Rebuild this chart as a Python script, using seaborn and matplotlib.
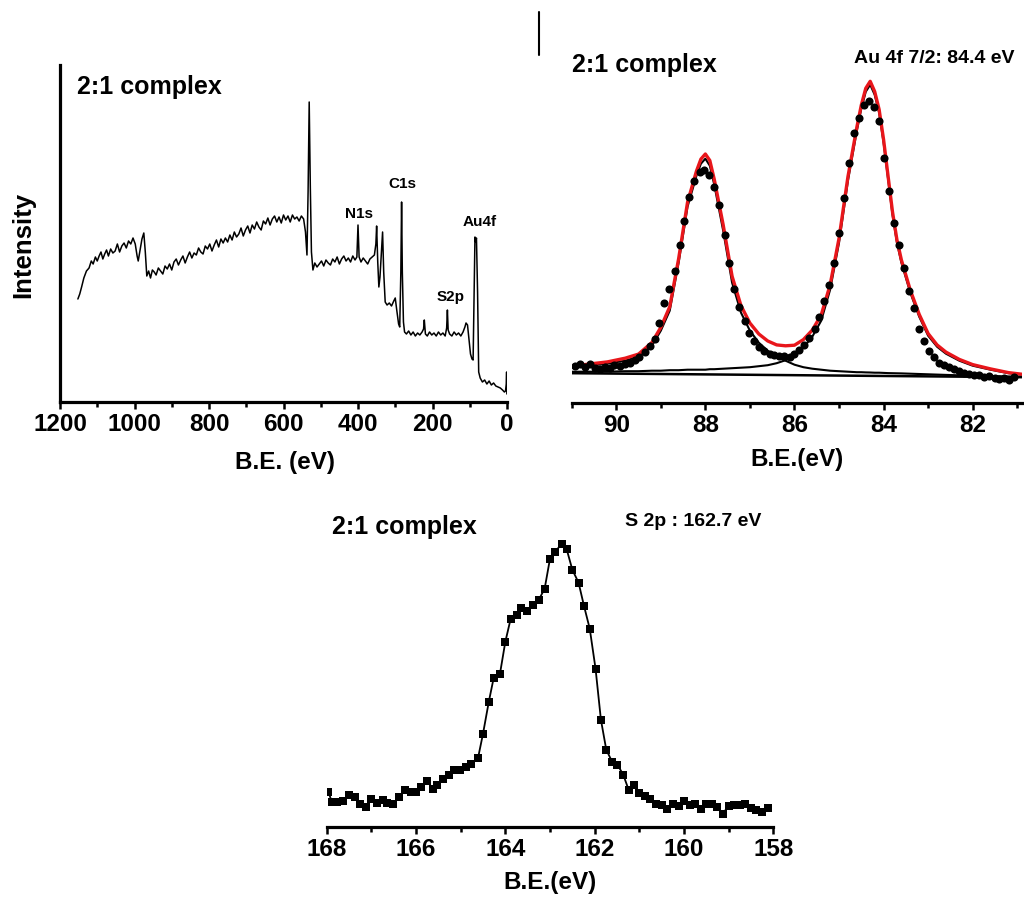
import matplotlib
matplotlib.use("Agg")
import matplotlib.pyplot as plt
from matplotlib.lines import Line2D
from matplotlib.ticker import MultipleLocator
from matplotlib.font_manager import FontProperties, findfont
import seaborn as sns

# Survey spectrum (B.E. in eV, intensity in arbitrary units)
survey_be = [1152, 1147, 1142, 1136, 1129, 1122, 1116, 1111, 1105, 1100,
             1095, 1090, 1085, 1080, 1075, 1070, 1064, 1058, 1052, 1046,
             1040, 1034, 1028, 1022, 1016, 1010, 1004, 998, 993, 990,
             985, 980, 975, 971, 967, 962, 957, 952, 947, 942,
             936, 930, 924, 918, 912, 906, 900, 894, 888, 882,
             876, 870, 864, 858, 852, 846, 840, 834, 828, 822,
             816, 810, 804, 798, 792, 786, 780, 774, 768, 762,
             756, 750, 744, 738, 732, 726, 720, 714, 708, 702,
             696, 690, 684, 678, 672, 666, 660, 654, 648, 642,
             636, 630, 624, 618, 612, 606, 600, 594, 588, 582,
             576, 570, 564, 558, 552, 546, 541, 537, 534, 531,
             528, 525, 521, 516, 510, 504, 498, 492, 486, 480,
             474, 468, 462, 456, 450, 444, 438, 432, 426, 420,
             414, 408, 403, 400, 397, 392, 386, 380, 374, 368,
             362, 356, 352, 350, 347, 344, 341, 337, 334, 331,
             327, 322, 316, 310, 304, 300, 296, 291, 288, 285,
             283, 281, 278, 275, 270, 264, 258, 252, 246, 240,
             234, 228, 224, 222, 219, 214, 208, 202, 196, 190,
             184, 178, 172, 166, 162, 160, 158, 154, 148, 142,
             136, 130, 124, 118, 113, 110, 106, 102, 98, 94,
             91, 88, 86, 84, 82, 79, 76, 72, 66, 60,
             54, 48, 42, 36, 30, 24, 18, 12, 7, 4,
             2, 1, 0.3]
survey_counts = [103, 108, 115, 124, 131, 134, 141, 138, 145, 141,
                 146, 150, 143, 148, 152, 146, 153, 149, 151, 158,
                 150, 156, 159, 154, 161, 158, 164, 158, 146, 141,
                 152, 163, 169, 150, 126, 131, 124, 132, 130, 127,
                 134, 131, 128, 136, 133, 138, 132, 140, 143, 137,
                 142, 146, 139, 145, 150, 144, 149, 147, 154, 150,
                 148, 156, 153, 158, 151, 157, 162, 155, 163, 159,
                 164, 160, 167, 162, 170, 165, 168, 174, 166, 172,
                 176, 169, 177, 173, 180, 175, 172, 181, 178, 184,
                 177, 183, 186, 180, 185, 179, 187, 182, 186, 180,
                 187, 183, 185, 181, 186, 183, 170, 147, 210, 300,
                 215, 150, 132, 139, 135, 138, 141, 136, 142, 139,
                 137, 143, 140, 145, 138, 143, 146, 141, 144, 140,
                 146, 142, 145, 177, 145, 140, 144, 141, 138, 143,
                 145, 147, 158, 176, 140, 115, 125, 150, 170, 130,
                 100, 97, 99, 96, 101, 104, 92, 78, 75, 130,
                 200, 130, 80, 70, 68, 71, 67, 70, 66, 69,
                 67, 70, 73, 82, 68, 66, 70, 67, 69, 66,
                 70, 67, 69, 66, 74, 92, 72, 68, 66, 70,
                 67, 69, 66, 70, 75, 79, 77, 62, 48, 43,
                 42, 120, 165, 160, 164, 110, 30, 24, 20, 22,
                 18, 21, 17, 19, 16, 15, 14, 12, 10, 11,
                 18, 30, 8]
survey_labels = ["N1s", "C1s", "S2p", "Au4f"]
survey_label_be = [396, 280, 151, 73]
survey_label_counts = [188, 218, 105, 180]

# Au 4f high resolution: fitted curves
fit_be = [91.0, 90.6, 90.2, 89.8, 89.5, 89.2, 89.0, 88.8, 88.6, 88.4, 88.2, 88.1,
          88.0, 87.9, 87.8, 87.6, 87.4, 87.2, 87.0, 86.8, 86.6, 86.4, 86.2, 86.0,
          85.8, 85.6, 85.4, 85.2, 85.0, 84.8, 84.6, 84.5, 84.4, 84.3, 84.2, 84.1,
          84.0, 83.9, 83.8, 83.7, 83.6, 83.4, 83.2, 83.0, 82.8, 82.6, 82.3, 82.0,
          81.6, 81.2, 80.9]
au_comp1 = [35, 37, 39, 42, 46, 57, 72, 92, 140, 196, 227, 239,
            244, 237, 218, 172, 120, 90, 72, 60, 52, 46, 42, 38,
            35.5, 34, 33, 32, 31.5, 31, 30.5, 30.5, 30.3, 30.2, 30, 30,
            29.8, 29.6, 29.5, 29.4, 29.3, 29, 28.7, 28.4, 28.1, 27.8, 27.4, 27,
            26.6, 26.2, 26]
au_comp2 = [31, 31, 31, 31.5, 31.5, 32, 32, 32.5, 32.5, 33, 33, 33,
            33, 33.5, 33.5, 34, 34.5, 35, 35.5, 36.5, 37.5, 39.5, 42.5, 47,
            55, 66, 82, 113, 160, 222, 272, 294, 311, 318, 308, 290,
            260, 224, 188, 160, 140, 110, 86, 67, 56, 49, 42, 37,
            33, 29.5, 28]
au_envelope = [36.5, 38.7, 40.8, 44.5, 48.6, 60.2, 75.3, 95.9, 144, 200.5, 231.6, 243.6,
               248.7, 242.2, 223.3, 177.8, 126.4, 97, 79.6, 68.7, 61.7, 57.8, 56.9, 57.5,
               63.1, 72.6, 87.7, 117.8, 164.4, 226, 275.5, 297.6, 314.4, 321.4, 311.2, 293.2,
               263.1, 226.9, 190.9, 162.8, 142.7, 112.5, 88.3, 69.1, 57.8, 50.6, 43.3, 38.1,
               33.8, 30.1, 28.5]
au_base_be = [91.0, 80.9]
au_base = [29.5, 25.5]

# Au 4f measured points
au_dot_be = [90.93, 90.82, 90.71, 90.60, 90.48, 90.37, 90.26, 90.15, 90.04,
             89.92, 89.81, 89.70, 89.59, 89.48, 89.36, 89.25, 89.14, 89.03,
             88.92, 88.81, 88.69, 88.58, 88.47, 88.36, 88.25, 88.13, 88.02,
             87.91, 87.80, 87.69, 87.57, 87.46, 87.35, 87.24, 87.12, 87.01,
             86.90, 86.79, 86.68, 86.56, 86.45, 86.34, 86.23, 86.11, 86.00,
             85.89, 85.78, 85.67, 85.55, 85.44, 85.33, 85.22, 85.11,
             84.99, 84.88, 84.77, 84.66, 84.55, 84.43, 84.32, 84.21, 84.10,
             83.98, 83.87, 83.76, 83.65, 83.54, 83.42, 83.31, 83.20, 83.09,
             82.97, 82.86, 82.75, 82.64, 82.53, 82.41, 82.30, 82.19, 82.08,
             81.96, 81.85, 81.74, 81.63, 81.51, 81.40, 81.29, 81.18, 81.07]
au_dot = [37, 39, 36, 39, 35, 34, 36, 35, 38,
          37, 39, 40, 43, 46, 51, 57, 64, 80,
          100, 114, 132, 158, 182, 206, 222, 231, 233,
          228, 216, 198, 168, 140, 114, 96, 82, 70,
          62, 56, 52, 49, 48, 47, 47, 46, 49,
          53, 58, 65, 74, 86, 102, 118, 140,
          170, 205, 240, 270, 285, 298, 302, 296, 282,
          245, 212, 180, 158, 135, 112, 95, 74, 62,
          52, 46, 40, 38, 36, 34, 32, 30, 29,
          28, 28, 26, 27, 25, 24, 25, 23, 26]

# S 2p high resolution
s2p_be = [167.96, 167.89, 167.78, 167.63, 167.49, 167.37, 167.25, 167.13, 167.01,
          166.88, 166.75, 166.64, 166.51, 166.37, 166.25, 166.12, 166.00,
          165.88, 165.75, 165.63, 165.52, 165.39, 165.26, 165.14, 165.02,
          164.89, 164.76, 164.61, 164.50, 164.37, 164.26, 164.12, 164.00,
          163.88, 163.75, 163.64, 163.51, 163.38, 163.25, 163.12, 163.00,
          162.88, 162.74, 162.63, 162.50, 162.36, 162.24, 162.11,
          161.98, 161.86, 161.74, 161.61, 161.49, 161.36, 161.24, 161.12, 161.01,
          160.88, 160.75, 160.62, 160.49, 160.37, 160.25, 160.12, 160.00,
          159.87, 159.75, 159.63, 159.50, 159.37, 159.25, 159.13, 159.00,
          158.87, 158.75, 158.63, 158.51, 158.38, 158.26, 158.12]
s2p_counts = [35, 25, 25, 26, 32, 30, 23, 20, 28,
              24, 27, 24, 23, 30, 37, 35, 35,
              40, 46, 38, 42, 48, 52, 57, 57,
              60, 63, 69, 93, 125, 149, 153, 185,
              208, 212, 219, 216, 222, 227, 238, 268,
              275, 283, 278, 257, 244, 221, 198,
              158, 107, 77, 65, 62, 52, 37, 42, 34,
              31, 28, 23, 22, 18, 23, 21, 26,
              22, 23, 18, 23, 23, 20, 13, 21,
              22, 22, 23, 19, 17, 15, 19]

sns.set_style("ticks", {"axes.edgecolor": "black", "xtick.color": "black",
                        "text.color": "black", "axes.labelcolor": "black"})
plt.rcParams['font.family'] = ['Liberation Sans', 'DejaVu Sans']
plt.rcParams['font.weight'] = 'bold'
plt.rcParams['axes.labelweight'] = 'bold'

# Tick labels in the reference are narrow bold digits
try:
    findfont(FontProperties(family='Liberation Sans Narrow', weight='bold'),
             fallback_to_default=False)
    tick_family, tick_size = 'Liberation Sans Narrow', 20.5
except ValueError:
    tick_family, tick_size = 'Liberation Sans', 17.5


def style_axis(axes, xlim, ylim, major, minor, keep_left):
    axes.set_xlim(*xlim)
    axes.set_ylim(*ylim)
    sns.despine(ax=axes, left=not keep_left)
    for side in ['bottom', 'left']:
        axes.spines[side].set_linewidth(2.3)
    axes.xaxis.set_major_locator(MultipleLocator(major))
    axes.xaxis.set_minor_locator(MultipleLocator(minor))
    axes.tick_params(axis='x', which='major', length=5, width=1.8, direction='out', pad=3)
    axes.tick_params(axis='x', which='minor', length=3.5, width=1.8, direction='out')
    axes.set_yticks([])
    axes.set_ylabel('')
    axes.patch.set_alpha(0)
    for label in axes.get_xticklabels():
        label.set_fontfamily(tick_family)
        label.set_fontsize(tick_size)
        label.set_fontweight('bold')


figure = plt.figure(figsize=(10.24, 9), dpi=100)
ax1 = figure.add_axes([60 / 1024, 1 - 402 / 900, 447 / 1024, 337 / 900])
ax2 = figure.add_axes([571.7 / 1024, 1 - 402.7 / 900, 450 / 1024, 337.7 / 900])
ax3 = figure.add_axes([326.7 / 1024, 1 - 826.7 / 900, 446.6 / 1024, 291.7 / 900])

# Survey
sns.lineplot(x=survey_be, y=survey_counts, sort=False, estimator=None,
             color='black', linewidth=1.1, ax=ax1)
for name, be, count in zip(survey_labels, survey_label_be, survey_label_counts):
    ax1.text(be, count, name, ha='center', va='center', fontsize=11, fontweight='bold')
style_axis(ax1, (1200, 0), (0, 337), 200, 100, True)
ax1.text(0.038, 0.936, "2:1 complex", transform=ax1.transAxes, ha='left', va='center',
         fontsize=18, fontweight='bold')
ax1.set_xlabel("B.E. (eV)", fontsize=17.5, fontweight='bold')
ax1.xaxis.set_label_coords(0.503, -0.181)
ax1.xaxis.label.set_va('center')
figure.text(23 / 1024, 1 - 245 / 900, "Intensity", rotation=90, ha='center', va='center',
            fontsize=18.5, fontweight='bold')

# Au 4f
sns.lineplot(x=fit_be, y=au_comp1, sort=False, estimator=None, color='black', linewidth=1.5, ax=ax2)
sns.lineplot(x=fit_be, y=au_comp2, sort=False, estimator=None, color='black', linewidth=1.5, ax=ax2)
sns.lineplot(x=au_base_be, y=au_base, sort=False, estimator=None, color='black', linewidth=1.8, ax=ax2)
sns.lineplot(x=fit_be, y=au_envelope, sort=False, estimator=None, color='#e8161b', linewidth=2.4, ax=ax2)
sns.scatterplot(x=au_dot_be, y=au_dot, color='black', s=34, linewidth=0, ax=ax2, zorder=5)
style_axis(ax2, (91.0, 80.9), (0, 337.7), 2, 1, False)
ax2.text(0.0, 1.0, "2:1 complex", transform=ax2.transAxes, ha='left', va='center',
         fontsize=18, fontweight='bold')
ax2.text(0.805, 1.02, "Au 4f 7/2: 84.4 eV", transform=ax2.transAxes, ha='center', va='center',
         fontsize=14, fontweight='bold')
ax2.set_xlabel("B.E.(eV)", fontsize=17.5, fontweight='bold')
ax2.xaxis.set_label_coords(0.50, -0.167)
ax2.xaxis.label.set_va('center')

# S 2p
sns.lineplot(x=s2p_be, y=s2p_counts, sort=False, estimator=None, color='black', linewidth=1.3,
             marker='s', markersize=5.5, markeredgewidth=0, ax=ax3)
style_axis(ax3, (168, 158), (0, 291.7), 2, 1, False)
ax3.text(0.011, 1.027, "2:1 complex", transform=ax3.transAxes, ha='left', va='center',
         fontsize=18, fontweight='bold')
ax3.text(0.82, 1.045, "S 2p : 162.7 eV", transform=ax3.transAxes, ha='center', va='center',
         fontsize=14, fontweight='bold')
ax3.set_xlabel("B.E.(eV)", fontsize=17.5, fontweight='bold')
ax3.xaxis.set_label_coords(0.5, -0.193)
ax3.xaxis.label.set_va('center')

# small separator stroke at the top of the page
figure.add_artist(Line2D([539 / 1024, 539 / 1024], [1 - 12 / 900, 1 - 55 / 900],
                         transform=figure.transFigure, color='black', linewidth=1.5))

figure.savefig("out.png", dpi=100, facecolor='white')
plt.close(figure)
